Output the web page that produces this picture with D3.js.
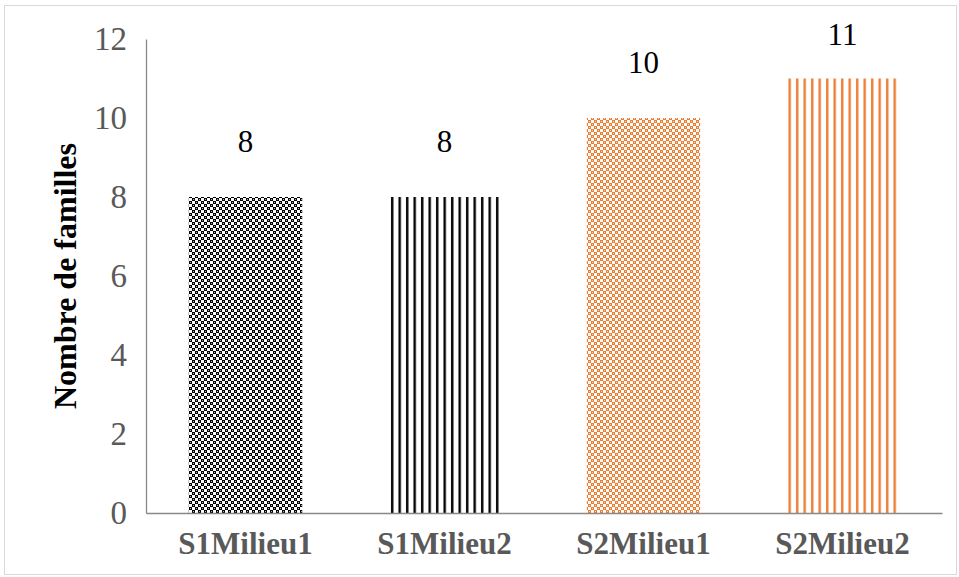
<!DOCTYPE html>
<html>
<head>
<meta charset="utf-8">
<script src="https://d3js.org/d3.v7.min.js"></script>
<style>
  body { margin: 0; background: #fff; }
  svg { display: block; }
  svg text { font-family: "Liberation Serif", "Times New Roman", serif; }
</style>
</head>
<body>
<div id="chart"></div>
<script>
// data
var categories = ["S1Milieu1", "S1Milieu2", "S2Milieu1", "S2Milieu2"];
var values = [8, 8, 10, 11];
var yTicks = [0, 2, 4, 6, 8, 10, 12];

var W = 959, H = 577;
var margin = {left: 146, right: 17, top: 39, bottom: 64};
var serif = "'Liberation Serif', 'Times New Roman', serif";

var svg = d3.select("#chart").append("svg")
  .attr("width", W).attr("height", H);

// patterns
var defs = svg.append("defs");
function checker(id, color) {
  var p = defs.append("pattern").attr("id", id)
    .attr("patternUnits", "userSpaceOnUse")
    .attr("width", 6).attr("height", 6);
  p.append("rect").attr("width", 6).attr("height", 6).attr("fill", "#fff");
  p.append("rect").attr("x", 0).attr("y", 0).attr("width", 3).attr("height", 3).attr("fill", color);
  p.append("rect").attr("x", 3).attr("y", 3).attr("width", 3).attr("height", 3).attr("fill", color);
  p.append("rect").attr("x", 1).attr("y", 1).attr("width", 1).attr("height", 1).attr("fill", "#fff").attr("opacity", 0.7);
  p.append("rect").attr("x", 4).attr("y", 4).attr("width", 1).attr("height", 1).attr("fill", "#fff").attr("opacity", 0.7);
}
function vlines(id, color) {
  var p = defs.append("pattern").attr("id", id)
    .attr("patternUnits", "userSpaceOnUse")
    .attr("width", 7.5).attr("height", 10);
  p.append("rect").attr("width", 7.5).attr("height", 10).attr("fill", "#fff");
  p.append("rect").attr("x", 1).attr("width", 2.4).attr("height", 10).attr("fill", color);
}
checker("chkBlack", "#000");
vlines("vlBlack", "#000");
checker("chkOrange", "#ED7D31");
vlines("vlOrange", "#ED7D31");
var fills = ["url(#chkBlack)", "url(#vlBlack)", "url(#chkOrange)", "url(#vlOrange)"];

// outer frame
svg.append("rect")
  .attr("x", 4.5).attr("y", 5.5).attr("width", W - 7).attr("height", H - 8)
  .attr("fill", "none").attr("stroke", "#d9d9d9").attr("stroke-width", 1);

var x = d3.scaleBand().domain(categories)
  .range([margin.left, W - margin.right])
  .paddingInner(0.43).paddingOuter(0.215);
var y = d3.scaleLinear().domain([0, 12])
  .range([H - margin.bottom, margin.top]);

// bars
svg.selectAll("rect.bar").data(values).enter().append("rect")
  .attr("class", "bar")
  .attr("x", function(d, i) { return x(categories[i]); })
  .attr("y", function(d) { return y(d); })
  .attr("width", x.bandwidth())
  .attr("height", function(d) { return y(0) - y(d); })
  .attr("fill", function(d, i) { return fills[i]; });

// value labels (pushed down when they would leave the frame)
svg.selectAll("text.val").data(values).enter().append("text")
  .attr("class", "val")
  .attr("x", function(d, i) { return x(categories[i]) + x.bandwidth() / 2; })
  .attr("y", function(d) { return Math.max(y(d) - 56, 34); })
  .attr("dy", "0.35em")
  .attr("text-anchor", "middle")
  .attr("font-family", serif)
  .attr("font-size", 31)
  .attr("fill", "#000")
  .text(function(d) { return d; });

// y axis
var yAxis = d3.axisLeft(y).tickValues(yTicks).tickSize(0).tickPadding(19);
var gy = svg.append("g").attr("transform", "translate(" + margin.left + ",0)").call(yAxis);
gy.attr("font-family", serif);
gy.select(".domain").attr("stroke", "#898989").attr("stroke-width", 1.3);
gy.selectAll("text")
  .attr("font-family", serif)
  .attr("font-size", 33)
  .attr("fill", "#595959");

// x axis
var xAxis = d3.axisBottom(x).tickSize(0).tickPadding(19);
var gx = svg.append("g").attr("transform", "translate(0," + y(0) + ")").call(xAxis);
gx.attr("font-family", serif);
gx.select(".domain").attr("stroke", "#898989").attr("stroke-width", 1.3);
gx.selectAll("text")
  .attr("font-family", serif)
  .attr("font-size", 31)
  .attr("font-weight", "bold")
  .attr("fill", "#595959");

// y title
svg.append("text")
  .attr("transform", "translate(76," + ((y(0) + y(12)) / 2) + ") rotate(-90)")
  .attr("text-anchor", "middle")
  .attr("font-family", serif)
  .attr("font-size", 32)
  .attr("font-weight", "bold")
  .attr("fill", "#000")
  .text("Nombre de familles");
</script>
</body>
</html>
